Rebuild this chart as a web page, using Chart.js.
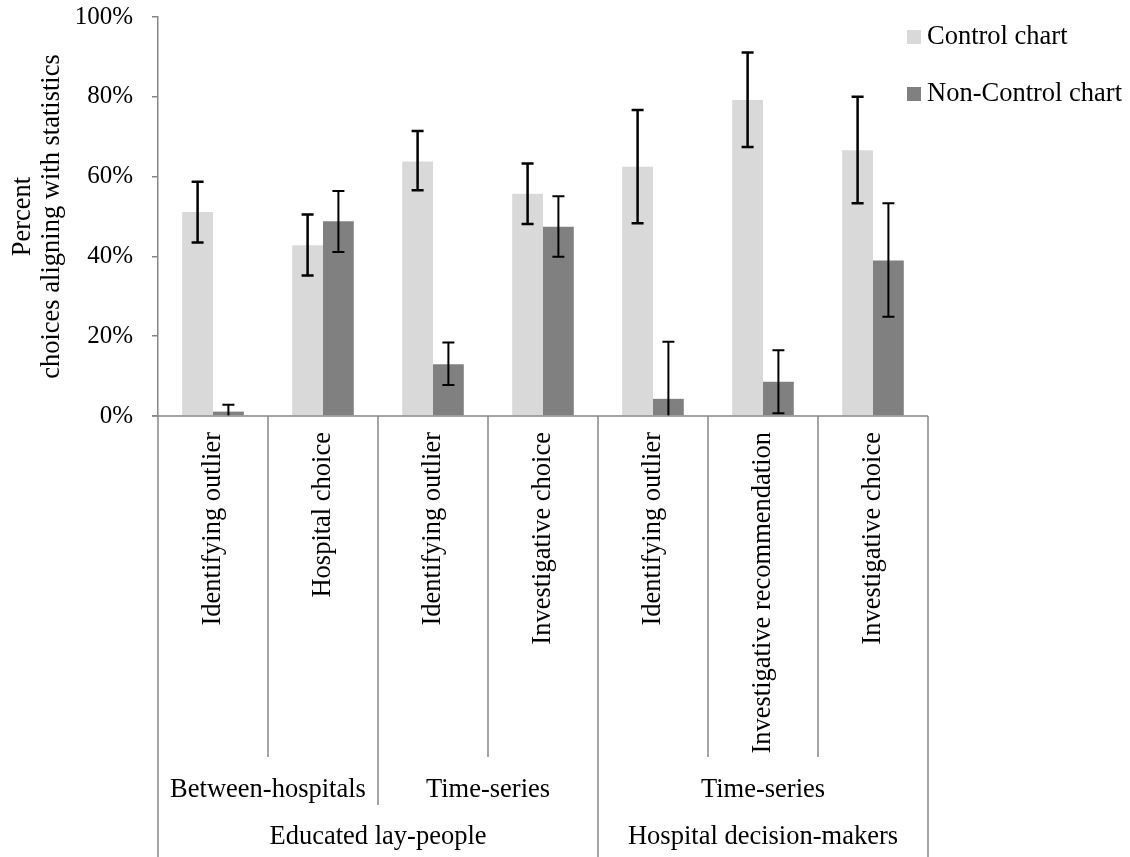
<!DOCTYPE html>
<html><head><meta charset="utf-8">
<script src="https://cdn.jsdelivr.net/npm/chart.js@4.4.1/dist/chart.umd.min.js"></script>
<style>html,body{margin:0;padding:0;background:#fff;}#wrap{width:1130px;height:857px;position:relative;}canvas{display:block;}</style>
</head><body><div id="wrap"><canvas id="c" width="1130" height="857"></canvas></div>
<script>
const categories = ["Identifying outlier","Hospital choice","Identifying outlier","Investigative choice","Identifying outlier","Investigative recommendation","Investigative choice"];
const subGroupLabels = ["Between-hospitals","Time-series","Time-series"];
const subGroupSpans = [2,2,3];
const mainGroupLabels = ["Educated lay-people","Hospital decision-makers"];
const mainGroupSpans = [4,3];
const seriesNames = ["Control chart","Non-Control chart"];
const controlValues = [51.1,42.8,63.8,55.7,62.5,79.2,66.6];
const controlLow = [43.5,35.2,56.6,48.1,48.3,67.4,53.3];
const controlHigh = [58.7,50.5,71.4,63.3,76.7,91.1,80.0];
const nonControlValues = [1.1,48.8,13.0,47.4,4.3,8.6,39.0];
const nonControlLow = [0,41.1,7.8,39.9,0,0.7,24.9];
const nonControlHigh = [2.8,56.4,18.4,55.1,18.6,16.5,53.3];
const yTicks = [0,20,40,60,80,100];

const FAMILY = "'Liberation Serif','Times New Roman',serif";
const FS = 26.5;
const COLORS = ['#d9d9d9','#808080'];
const AXIS = '#868686';

const overlay = {
  id:'overlay',
  afterDraw(chart){
    const ctx = chart.ctx, xs = chart.scales.x, ys = chart.scales.y, ca = chart.chartArea;
    ctx.save();
    const lows=[controlLow,nonControlLow], highs=[controlHigh,nonControlHigh];
    [0,1].forEach(di=>{
      const meta = chart.getDatasetMeta(di);
      ctx.strokeStyle='#000';
      ctx.lineWidth = di===0?2.5:2;
      meta.data.forEach((bar,i)=>{
        const x = bar.x, y1 = ys.getPixelForValue(highs[di][i]), y2 = ys.getPixelForValue(lows[di][i]);
        ctx.beginPath();
        ctx.moveTo(x,y1); ctx.lineTo(x,y2);
        ctx.moveTo(x-6,y1); ctx.lineTo(x+6,y1);
        if (lows[di][i] > 0) { ctx.moveTo(x-6,y2); ctx.lineTo(x+6,y2); }
        ctx.stroke();
      });
    });
    ctx.strokeStyle = AXIS; ctx.lineWidth = 1.5;
    ctx.beginPath(); ctx.moveTo(ca.left-6, ca.bottom); ctx.lineTo(ca.right, ca.bottom); ctx.stroke();
    const n = categories.length;
    const b = [];
    for (let i=0;i<=n;i++){
      if (i===0) b.push(ca.left);
      else if (i===n) b.push(ca.right);
      else b.push((xs.getPixelForValue(i-1)+xs.getPixelForValue(i))/2);
    }
    const mainB = new Set([0]); let acc=0; mainGroupSpans.forEach(s=>{acc+=s; mainB.add(acc);});
    const subB = new Set([0]); acc=0; subGroupSpans.forEach(s=>{acc+=s; subB.add(acc);});
    const L1 = 757, L2 = 805, L3 = 857;
    b.forEach((x,i)=>{
      const yEnd = mainB.has(i) ? L3 : (subB.has(i) ? L2 : L1);
      ctx.beginPath(); ctx.moveTo(x, ca.bottom); ctx.lineTo(x, yEnd); ctx.stroke();
    });
    ctx.fillStyle = '#000';
    ctx.font = FS + 'px ' + FAMILY;
    categories.forEach((lab,i)=>{
      const cx = (b[i]+b[i+1])/2;
      ctx.save();
      ctx.translate(cx, 432);
      ctx.rotate(-Math.PI/2);
      ctx.textAlign='right'; ctx.textBaseline='middle';
      ctx.fillText(lab, 0, 0);
      ctx.restore();
    });
    ctx.textAlign='center'; ctx.textBaseline='middle';
    let s=0;
    subGroupLabels.forEach((lab,k)=>{
      const cx = (b[s]+b[s+subGroupSpans[k]])/2; s+=subGroupSpans[k];
      ctx.fillText(lab, cx, 790);
    });
    s=0;
    mainGroupLabels.forEach((lab,k)=>{
      const cx = (b[s]+b[s+mainGroupSpans[k]])/2; s+=mainGroupSpans[k];
      ctx.fillText(lab, cx, 837);
    });
    const ly = [37, 94];
    seriesNames.forEach((nm,k)=>{
      ctx.fillStyle = COLORS[k];
      ctx.fillRect(907, ly[k]-7, 14, 14);
      ctx.fillStyle = '#000';
      ctx.textAlign='left'; ctx.textBaseline='middle';
      ctx.fillText(nm, 927, ly[k]);
    });
    ctx.restore();
  }
};

new Chart(document.getElementById('c'), {
  type:'bar',
  data:{
    labels: categories,
    datasets:[
      {label:seriesNames[0], data:controlValues, backgroundColor:COLORS[0], borderWidth:0, categoryPercentage:0.56, barPercentage:1.0},
      {label:seriesNames[1], data:nonControlValues, backgroundColor:COLORS[1], borderWidth:0, categoryPercentage:0.56, barPercentage:1.0}
    ]
  },
  options:{
    responsive:false, animation:false, devicePixelRatio:1,
    layout:{padding:{left:0, top:17, right:202, bottom:441}},
    plugins:{legend:{display:false}, tooltip:{enabled:false}},
    scales:{
      x:{display:false},
      y:{
        min:0, max:100,
        afterFit(sc){ sc.width = 158; sc.paddingTop = 0; sc.paddingBottom = 0; },
        afterBuildTicks(sc){ sc.ticks = yTicks.map(v=>({value:v})); },
        ticks:{callback:v=>v+'%', color:'#000', font:{family:FAMILY, size:25}, padding:19},
        grid:{drawOnChartArea:false, tickLength:6, color:AXIS, lineWidth:1.5},
        border:{color:AXIS, width:1.5},
        title:{display:true, text:["Percent","choices aligning with statistics"], color:'#000', font:{family:FAMILY, size:FS, lineHeight:1.12}, padding:{top:8,bottom:0}}
      }
    }
  },
  plugins:[overlay]
});
</script></body></html>
